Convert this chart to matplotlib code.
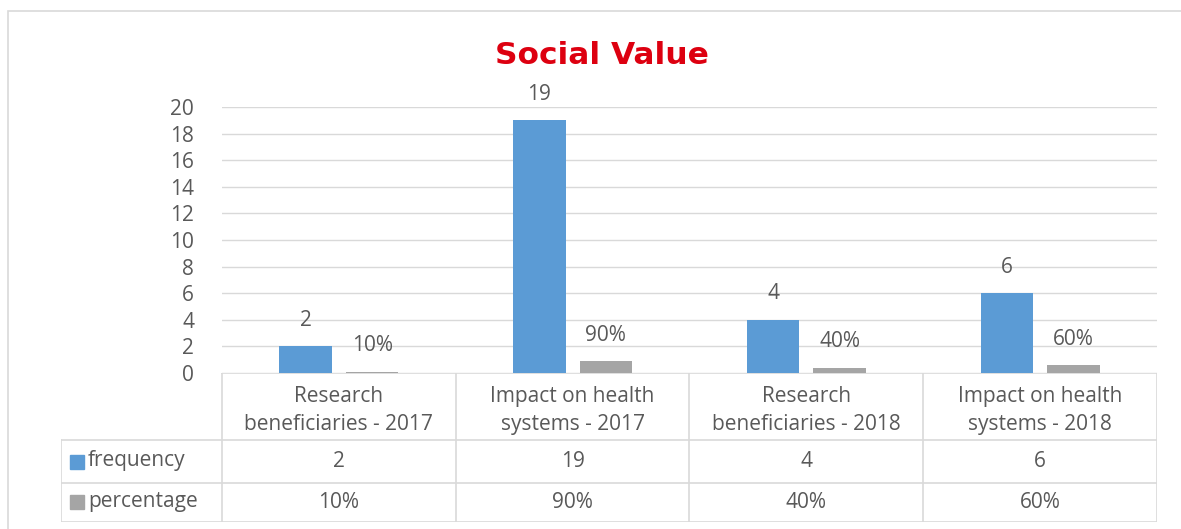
import matplotlib.pyplot as plt
from matplotlib.patches import Rectangle
from matplotlib.lines import Line2D

plt.rcParams['font.family'] = ['Open Sans', 'DejaVu Sans']

categories = ['Research\nbeneficiaries - 2017', 'Impact on health\nsystems - 2017',
              'Research\nbeneficiaries - 2018', 'Impact on health\nsystems - 2018']
frequency = [2, 19, 4, 6]
percentage = [0.10, 0.90, 0.40, 0.60]
series_names = ['frequency', 'percentage']
y_ticks = [0, 2, 4, 6, 8, 10, 12, 14, 16, 18, 20]

BLUE = '#5B9BD5'
GREY = '#A5A5A5'
TEXT = '#595959'
LINE = '#D9D9D9'
FS = 15

W, H = 1181, 529
fig = plt.figure(figsize=(W / 100, H / 100), dpi=100)


def fx(px):
    return px / W


def fy(py):
    return 1 - py / H


# outer chart border
fig.patches.append(Rectangle((fx(8), fy(540)), fx(1200 - 8), fy(11) - fy(540),
                             transform=fig.transFigure, fill=False,
                             edgecolor='#D9D9D9', lw=1.2))

# main bar axes
ax = fig.add_axes([fx(222), fy(373), fx(1157 - 222), fy(107) - fy(373)])
x = list(range(len(categories)))
bw = 0.225
gap = 0.06
off = (bw + gap) / 2
b1 = ax.bar([i - off for i in x], frequency, width=bw, color=BLUE, zorder=3)
b2 = ax.bar([i + off for i in x], percentage, width=bw, color=GREY, zorder=3)

for rect, v in zip(b1, frequency):
    ax.annotate(str(v), (rect.get_x() + rect.get_width() / 2, rect.get_height()),
                xytext=(0, 26), textcoords='offset pixels', ha='center', va='center',
                fontsize=FS, color=TEXT)
for rect, v in zip(b2, percentage):
    ax.annotate('{:.0f}%'.format(v * 100), (rect.get_x() + rect.get_width() / 2, rect.get_height()),
                xytext=(0, 26), textcoords='offset pixels', ha='center', va='center',
                fontsize=FS, color=TEXT)

ax.set_xlim(-0.5, len(categories) - 0.5)
ax.set_ylim(0, 20)
ax.set_yticks(y_ticks)
ax.tick_params(axis='y', length=0, labelsize=FS, labelcolor=TEXT, pad=20)
ax.set_xticks([])
ax.grid(axis='y', color=LINE, lw=1, zorder=0)
for s in ax.spines.values():
    s.set_visible(False)

fig.text(fx(602), fy(56), 'Social Value', ha='center', va='center',
         fontsize=22.5, fontweight='bold', color='#DD0010', family='DejaVu Sans')

# data table under the plot
tab = fig.add_axes([fx(61), fy(522), fx(1157 - 61), fy(373) - fy(522)])
xl, xr, xc = -0.5 - 161 / 234, len(categories) - 0.5, -0.5
tab.set_xlim(xl, xr)
tab.set_ylim(0, 148)
tab.axis('off')
lines = [([xc, xr], [148, 148]), ([xl, xr], [81, 81]), ([xl, xr], [39, 39]),
         ([xl, xr], [0, 0]), ([xl, xl], [0, 81]), ([xr, xr], [0, 148])]
for i in range(len(categories)):
    lines.append(([i - 0.5, i - 0.5], [0, 148]))
for lx, ly in lines:
    tab.add_line(Line2D(lx, ly, color=LINE, lw=1.2))

for i, cat in enumerate(categories):
    tab.text(i, 111, cat, ha='center', va='center', fontsize=FS, color=TEXT, linespacing=1.45)
    tab.text(i, 60, str(frequency[i]), ha='center', va='center', fontsize=FS, color=TEXT)
    tab.text(i, 19.5, '{:.0f}%'.format(percentage[i] * 100), ha='center', va='center',
             fontsize=FS, color=TEXT)

for name, color, yc in zip(series_names, [BLUE, GREY], [60, 19.5]):
    tab.add_patch(Rectangle((xl + 9 / 234, yc - 7), 14 / 234, 14, color=color))
    tab.text(xl + 27 / 234, yc + 1, name, ha='left', va='center', fontsize=FS, color=TEXT)

fig.savefig('out.png', dpi=100)
